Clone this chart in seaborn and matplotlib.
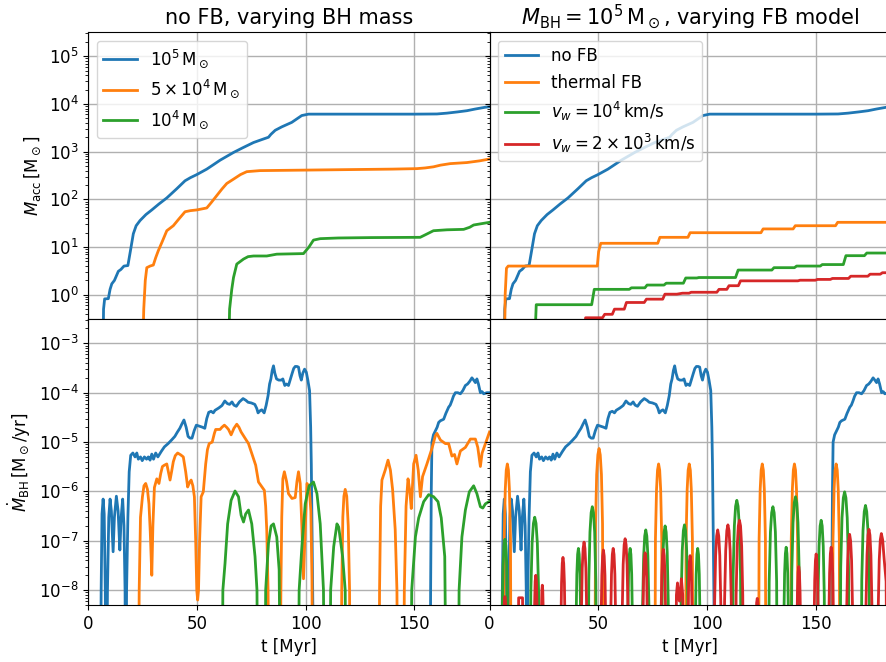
"""
Accretion history of the seed black hole runs.
Top row: accreted mass, bottom row: accretion rate.
Left: no feedback, three BH masses. Right: 1e5 Msun BH, four feedback models.
"""

import matplotlib
matplotlib.use("Agg")
import matplotlib.pyplot as plt
import seaborn as sns

# ─── Data (t [Myr], value) ───────────────────────────────────────────────────

# accreted mass [Msun], no FB
acc_1e5 = [(6.6, 0.01), (7.0, 0.5), (7.5, 0.82), (9.2, 0.83), (10.0, 1.3), (10.8, 1.7),
           (12.0, 2.0), (13.8, 3.1), (15.0, 3.4), (16.4, 4.0), (18.2, 4.1), (19.3, 8.0),
           (20.7, 19), (22.0, 28), (23.8, 36), (26.5, 48), (29.2, 60), (32.5, 80),
           (36.1, 107), (40.7, 167), (44.5, 245), (47.0, 285), (49.9, 330), (54.5, 430),
           (57.5, 530), (60.6, 660), (66.8, 960), (71.0, 1200), (76.0, 1550), (80.0, 1800),
           (82.9, 2000), (84.0, 2300), (86.0, 2800), (89.0, 3300), (93.6, 4100),
           (98.2, 5700), (101.3, 6100), (110.0, 6100), (130.0, 6100), (150.0, 6100),
           (160.4, 6150), (165.0, 6400), (170.0, 6800), (174.2, 7200), (178.0, 7800),
           (182.6, 8500), (184.6, 8700)]
acc_5e4 = [(24.6, 0.01), (25.5, 0.5), (26.2, 2.0), (26.9, 3.7), (28.4, 4.0), (29.9, 4.2),
           (31.0, 6.0), (32.2, 8.4), (34.0, 13), (36.1, 22), (39.1, 28), (41.5, 38),
           (44.5, 55), (47.0, 58), (49.9, 60), (54.5, 66), (56.5, 85), (59.1, 120),
           (61.5, 165), (63.7, 215), (66.8, 265), (70.0, 330), (72.9, 380), (79.0, 400),
           (100.0, 410), (120.0, 420), (140.0, 430), (151.2, 440), (155.0, 455),
           (158.8, 480), (162.0, 520), (166.5, 560), (174.2, 590), (180.0, 640),
           (184.6, 700)]
acc_1e4 = [(64.2, 0.01), (65.0, 0.5), (66.0, 1.3), (66.8, 2.3), (68.3, 4.4), (71.4, 5.6),
           (73.5, 6.3), (76.0, 6.5), (82.1, 6.5), (86.7, 7.1), (99.0, 7.3), (101.5, 10),
           (103.6, 14), (106.7, 15), (115.0, 15.5), (130.0, 15.8), (152.7, 16),
           (155.5, 18.5), (158.8, 22), (165.0, 23), (172.7, 23.5), (175.5, 26),
           (177.3, 29), (184.6, 33)]

# accreted mass [Msun], 1e5 Msun BH with feedback
acc_thermal = [(6.6, 0.01), (7.2, 1.0), (7.8, 3.6), (8.6, 4.0), (49.6, 4.0), (50.2, 8.0),
               (51.2, 12), (77.4, 12), (78.4, 16), (91.3, 16), (92.3, 20), (124.9, 20),
               (125.9, 24), (139.7, 24), (140.7, 28), (159.2, 28), (160.2, 33),
               (184.6, 33)]
acc_vw1e4 = [(20.0, 0.01), (21.5, 0.62), (47.0, 0.62), (48.2, 1.3), (64.3, 1.3),
             (65.3, 1.4), (71.5, 1.4), (72.5, 1.6), (80.3, 1.6), (81.3, 1.75),
             (89.2, 1.75), (90.3, 2.25), (95.4, 2.25), (96.3, 2.3), (113.2, 2.3),
             (114.4, 3.3), (129.9, 3.3), (130.9, 3.7), (140.3, 3.7), (141.3, 4.0),
             (152.2, 4.0), (153.1, 4.3), (162.8, 4.3), (164.0, 6.6), (172.5, 6.6),
             (173.6, 7.5), (184.6, 7.5)]
acc_vw2e3 = [(43.2, 0.01), (44.2, 0.33), (52.0, 0.33), (53.0, 0.39), (56.5, 0.39),
             (57.5, 0.5), (62.0, 0.5), (63.0, 0.69), (71.2, 0.69), (72.2, 0.81),
             (79.7, 0.81), (80.7, 1.03), (86.2, 1.03), (88.8, 1.08), (91.8, 1.08),
             (92.8, 1.13), (104.6, 1.13), (105.6, 1.3), (109.2, 1.3), (110.2, 1.55),
             (114.5, 1.55), (115.5, 1.96), (141.9, 1.96), (142.9, 2.02), (149.9, 2.02),
             (150.9, 2.1), (156.8, 2.1), (157.8, 2.2), (165.2, 2.2), (166.2, 2.45),
             (174.1, 2.45), (175.1, 2.7), (179.8, 2.7), (180.8, 2.9), (184.6, 2.9)]

# accretion rate [Msun/yr], no FB
rate_1e5 = [(5.5, 1e-11), (5.9, 1e-8), (6.3, 3.5e-7), (6.8, 7e-7), (7.3, 3.5e-7),
            (7.8, 1e-8), (8.3, 1e-11), (8.8, 1e-8), (9.4, 3e-7), (10.0, 7e-7),
            (10.6, 4e-7), (11.4, 6e-8), (12.0, 3e-7), (12.9, 8e-7), (13.7, 4e-7),
            (14.5, 6.5e-8), (15.1, 3e-7), (15.8, 7e-7), (16.4, 2e-7), (16.9, 1e-8),
            (17.2, 1e-11), (17.6, 1e-8), (18.2, 3e-7), (18.8, 2.5e-6), (19.5, 5.4e-6),
            (20.5, 6e-6), (21.5, 5e-6), (22.3, 6e-6), (23.0, 4.5e-6), (24.0, 5e-6),
            (24.8, 4.2e-6), (25.8, 5e-6), (26.8, 4.5e-6), (27.6, 5e-6), (28.4, 4.3e-6),
            (29.2, 5.7e-6), (30.0, 4.5e-6), (31.0, 6e-6), (32.0, 5e-6), (33.6, 6.5e-6),
            (35.0, 8e-6), (36.7, 9.3e-6), (38.3, 1.1e-5), (39.8, 1.3e-5), (41.0, 1.6e-5),
            (42.1, 1.9e-5), (43.0, 2.3e-5), (44.0, 2.8e-5), (45.0, 2e-5), (45.9, 1.3e-5),
            (46.8, 1.2e-5), (47.7, 1.2e-5), (48.7, 1.7e-5), (49.7, 2.2e-5), (51.0, 2.1e-5),
            (52.5, 2e-5), (53.6, 1.9e-5), (54.5, 3e-5), (55.4, 4e-5), (56.5, 4.2e-5),
            (57.5, 3.9e-5), (58.3, 4.4e-5), (60.0, 4.9e-5), (61.5, 5.5e-5), (62.8, 6.8e-5),
            (64.0, 6e-5), (65.0, 5.8e-5), (66.1, 6.5e-5), (67.0, 5.6e-5), (68.1, 5.3e-5),
            (69.5, 6.5e-5), (71.2, 7.6e-5), (72.5, 7e-5), (73.5, 6.4e-5), (75.0, 6.2e-5),
            (76.6, 5.8e-5), (77.5, 4.8e-5), (78.1, 3.9e-5), (79.0, 4.3e-5), (79.8, 4.5e-5),
            (80.9, 3.9e-5), (81.8, 5.5e-5), (82.7, 8.7e-5), (83.4, 1.5e-4), (84.0, 1.9e-4),
            (84.6, 2.8e-4), (85.2, 3.5e-4), (85.8, 2.5e-4), (86.6, 1.9e-4), (87.6, 1.8e-4),
            (88.8, 1.8e-4), (89.5, 1.9e-4), (90.4, 1.4e-4), (91.2, 1.5e-4), (92.1, 1.4e-4),
            (93.0, 1.9e-4), (93.7, 2.4e-4), (94.5, 3.1e-4), (95.2, 3.4e-4), (96.0, 3.4e-4),
            (96.7, 3.3e-4), (97.4, 2.2e-4), (98.0, 1.8e-4), (98.7, 2.5e-4), (99.5, 3.0e-4),
            (100.3, 2.6e-4), (101.0, 1.8e-4), (101.8, 1.1e-4), (102.3, 2e-5),
            (102.6, 3.5e-6), (103.0, 1e-7), (103.4, 2e-9), (103.6, 1e-11), (157.2, 1e-11),
            (157.5, 1e-8), (157.8, 1e-6), (158.1, 1e-5), (158.8, 1.4e-5), (159.7, 1.7e-5),
            (160.5, 2e-5), (161.2, 2.5e-5), (162.0, 2.7e-5), (163.5, 2.9e-5),
            (164.5, 3.8e-5), (165.8, 5.1e-5), (166.5, 5.6e-5), (167.3, 6.9e-5),
            (168.0, 8.5e-5), (168.9, 1.0e-4), (170.0, 1.0e-4), (171.2, 9.5e-5),
            (172.3, 1.1e-4), (173.5, 1.4e-4), (174.5, 1.5e-4), (175.5, 1.7e-4),
            (176.5, 2.0e-4), (177.3, 1.8e-4), (178.1, 1.6e-4), (178.8, 1.9e-4),
            (179.5, 1.5e-4), (180.4, 1.0e-4), (181.2, 1.05e-4), (181.9, 9.5e-5),
            (183.4, 1.0e-4), (184.6, 1.0e-4)]
rate_5e4 = [(23.0, 1e-11), (23.4, 1e-8), (24.0, 3e-7), (24.9, 7.8e-7), (25.6, 1.3e-6),
            (26.4, 1.45e-6), (27.2, 1.1e-6), (27.9, 5.6e-7), (28.5, 1.5e-7), (29.2, 2e-8),
            (29.7, 2e-7), (30.4, 1.2e-6), (31.5, 1.8e-6), (32.5, 1.45e-6), (33.3, 2.3e-6),
            (34.1, 3.2e-6), (35.0, 3.4e-6), (36.1, 3.6e-6), (37.0, 2.3e-6), (37.6, 1.7e-6),
            (38.3, 2.5e-6), (39.1, 4e-6), (40.0, 5.3e-6), (41.1, 6e-6), (42.5, 5.5e-6),
            (43.7, 5e-6), (44.8, 2.5e-6), (45.7, 1.23e-6), (46.5, 1.5e-6), (47.3, 1.7e-6),
            (48.1, 1.3e-6), (48.8, 7.8e-7), (49.4, 1e-7), (49.9, 1e-8), (50.3, 6.3e-9),
            (50.7, 1e-8), (51.2, 1e-7), (51.9, 7.8e-7), (52.9, 9.8e-7), (53.5, 2e-6),
            (54.0, 3.6e-6), (54.8, 7e-6), (55.6, 9.3e-6), (57.0, 1e-5), (58.0, 1.5e-5),
            (58.6, 1.8e-5), (60.6, 1.8e-5), (61.5, 2e-5), (62.6, 2.2e-5), (63.6, 2e-5),
            (64.5, 1.8e-5), (65.7, 1.4e-5), (67.0, 1.9e-5), (68.3, 2.3e-5), (69.3, 2e-5),
            (70.3, 1.6e-5), (71.8, 1.26e-5), (73.7, 9.3e-6), (75.5, 5.4e-6), (77.0, 3.4e-6),
            (78.3, 1.55e-6), (79.5, 1.3e-6), (81.0, 1.05e-6), (81.6, 5e-7), (82.1, 1.66e-7),
            (82.7, 1e-8), (83.2, 1e-11), (88.2, 1e-11), (88.6, 1e-8), (89.0, 3e-7),
            (89.5, 1.8e-6), (90.2, 2.5e-6), (91.2, 1.6e-6), (92.1, 9e-7), (93.7, 7.2e-7),
            (95.2, 7.5e-7), (96.0, 1.6e-6), (96.7, 2.5e-6), (97.5, 1.45e-6), (98.3, 1.7e-7),
            (99.0, 1.7e-8), (99.8, 1.7e-7), (100.6, 1.45e-6), (101.6, 1.2e-6),
            (102.4, 4e-7), (102.9, 1.7e-8), (103.3, 1e-11), (116.2, 1e-11), (116.6, 1e-8),
            (117.1, 3e-7), (117.6, 8e-7), (118.2, 1.1e-6), (118.9, 8e-7), (119.6, 2e-7),
            (120.2, 1e-8), (120.5, 1e-11), (133.7, 1e-11), (134.0, 1e-8), (134.5, 5e-7),
            (135.1, 1.7e-6), (136.6, 2.7e-6), (137.9, 4.3e-6), (139.0, 2.7e-6),
            (140.0, 1.1e-6), (141.2, 1.7e-7), (142.0, 1e-8), (142.4, 1e-11),
            (145.0, 1e-11), (145.4, 1e-8), (146.2, 5e-7), (147.1, 1.8e-6),
            (147.9, 1.05e-6), (148.6, 4.5e-7), (149.7, 3.6e-6), (150.8, 5.4e-6),
            (151.8, 2.7e-6), (152.8, 7.8e-7), (153.8, 2e-6), (155.8, 3.6e-6),
            (158.1, 7.4e-6), (159.7, 1.35e-5), (160.4, 1.5e-5), (162.0, 1.1e-5),
            (164.3, 9.3e-6), (165.8, 9.3e-6), (167.3, 5.2e-6), (168.5, 5.6e-6),
            (169.6, 3.6e-6), (171.2, 6.6e-6), (173.5, 7.8e-6), (175.8, 1.15e-5),
            (178.1, 1.15e-5), (179.2, 7.8e-6), (180.4, 3.2e-6), (181.2, 6e-6),
            (182.7, 9.3e-6), (184.6, 1.6e-5)]
rate_1e4 = [(61.5, 1e-11), (61.9, 1e-8), (62.9, 3.5e-8), (64.1, 2.2e-7), (65.7, 6.6e-7),
            (67.5, 1.02e-6), (69.1, 7.8e-7), (70.3, 3.3e-7), (71.4, 2.4e-7),
            (72.4, 3.5e-7), (73.7, 4.2e-7), (75.2, 2.2e-7), (76.7, 4.8e-8), (77.6, 1e-8),
            (78.0, 1e-11), (81.2, 1e-11), (81.6, 1e-8), (82.9, 9e-8), (84.1, 2e-7),
            (85.2, 2.2e-7), (86.7, 1.2e-7), (87.8, 2.6e-8), (88.5, 1e-11), (96.5, 1e-11),
            (97.0, 1e-8), (98.3, 8e-8), (99.8, 5.6e-7), (101.6, 1.3e-6), (103.6, 1.55e-6),
            (105.2, 9e-7), (106.7, 2.2e-7), (108.2, 1e-8), (108.7, 1e-11), (111.1, 1e-11),
            (111.5, 1e-8), (112.9, 7.6e-8), (114.4, 2.2e-7), (115.2, 1.9e-7),
            (117.0, 4.8e-8), (118.2, 1e-8), (118.6, 1e-11), (148.4, 1e-11), (148.8, 1e-8),
            (150.5, 1.2e-7), (152.0, 2.9e-7), (154.3, 6.2e-7), (156.6, 8.6e-7),
            (158.9, 7.8e-7), (160.9, 6.2e-7), (162.4, 2.9e-7), (164.0, 4.8e-8),
            (164.8, 1e-11), (170.2, 1e-11), (170.6, 1e-8), (171.9, 1.2e-7),
            (173.5, 4.2e-7), (175.3, 9.8e-7), (177.3, 1.3e-6), (178.8, 9e-7),
            (180.4, 4.9e-7), (181.5, 4.6e-7), (182.7, 5.6e-7), (184.6, 6.3e-7)]

# accretion rate [Msun/yr], 1e5 Msun BH with feedback (bursts)
rate_thermal = [
    (6.45, 1e-11), (6.75, 1.1e-7), (7.25, 1.1e-6), (7.7, 2.7e-6), (8.2, 3.6e-6),
    (8.7, 2.7e-6), (9.15, 1.1e-6), (9.65, 1.1e-7), (9.95, 1e-11),
    (48.4, 1e-11), (48.8, 2.2e-7), (49.3, 2.2e-6), (49.85, 5.5e-6), (50.4, 7.4e-6),
    (50.95, 5.5e-6), (51.5, 2.2e-6), (52.0, 2.2e-7), (52.4, 1e-11),
    (76.05, 1e-11), (76.35, 1.1e-7), (76.85, 1.1e-6), (77.3, 2.7e-6), (77.8, 3.6e-6),
    (78.3, 2.7e-6), (78.75, 1.1e-6), (79.25, 1.1e-7), (79.55, 1e-11),
    (90.15, 1e-11), (90.45, 1.1e-7), (90.95, 1.1e-6), (91.4, 2.7e-6), (91.9, 3.6e-6),
    (92.4, 2.7e-6), (92.85, 1.1e-6), (93.35, 1.1e-7), (93.65, 1e-11),
    (123.75, 1e-11), (124.05, 1.1e-7), (124.55, 1.1e-6), (125.0, 2.7e-6),
    (125.5, 3.6e-6), (126.0, 2.7e-6), (126.45, 1.1e-6), (126.95, 1.1e-7),
    (127.25, 1e-11),
    (138.55, 1e-11), (138.85, 1.1e-7), (139.35, 1.1e-6), (139.8, 2.7e-6),
    (140.3, 3.6e-6), (140.8, 2.7e-6), (141.25, 1.1e-6), (141.75, 1.1e-7),
    (142.05, 1e-11),
    (157.75, 1e-11), (158.05, 1.1e-7), (158.55, 1.1e-6), (159.0, 2.7e-6),
    (159.5, 3.6e-6), (160.0, 2.7e-6), (160.45, 1.1e-6), (160.95, 1.1e-7),
    (161.25, 1e-11)]
rate_vw1e4 = [
    (5.56, 1e-11), (5.84, 3.2e-9), (6.26, 3.2e-8), (6.68, 8e-8), (7.1, 1.07e-7),
    (7.52, 8e-8), (7.94, 3.2e-8), (8.36, 3.2e-9), (8.64, 1e-11),
    (18.6, 1e-11), (19.0, 9e-9), (19.6, 9e-8), (20.2, 2.25e-7), (20.8, 3e-7),
    (21.4, 2.25e-7), (22.0, 9e-8), (22.6, 9e-9), (23.0, 1e-11),
    (39.58, 1e-11), (39.82, 2.1e-9), (40.18, 2.1e-8), (40.54, 5.3e-8), (40.9, 7e-8),
    (41.26, 5.3e-8), (41.62, 2.1e-8), (41.98, 2.1e-9), (42.22, 1e-11),
    (45.32, 1e-11), (45.68, 1.5e-8), (46.22, 1.5e-7), (46.76, 3.7e-7), (47.3, 4.9e-7),
    (47.84, 3.7e-7), (48.38, 1.5e-7), (48.92, 1.5e-8), (49.28, 1e-11),
    (63.38, 1e-11), (63.62, 2.1e-9), (63.98, 2.1e-8), (64.34, 5.3e-8), (64.7, 7e-8),
    (65.06, 5.3e-8), (65.42, 2.1e-8), (65.78, 2.1e-9), (66.02, 1e-11),
    (70.14, 1e-11), (70.46, 5e-9), (70.94, 5e-8), (71.42, 1.25e-7), (71.9, 1.66e-7),
    (72.38, 1.25e-7), (72.86, 5e-8), (73.34, 5e-9), (73.66, 1e-11),
    (79.04, 1e-11), (79.36, 6e-9), (79.84, 6e-8), (80.32, 1.5e-7), (80.8, 2e-7),
    (81.28, 1.5e-7), (81.76, 6e-8), (82.24, 6e-9), (82.56, 1e-11),
    (87.83, 1e-11), (88.17, 6.3e-9), (88.68, 6.3e-8), (89.19, 1.6e-7), (89.7, 2.1e-7),
    (90.21, 1.6e-7), (90.72, 6.3e-8), (91.23, 6.3e-9), (91.57, 1e-11),
    (94.48, 1e-11), (94.72, 2.1e-9), (95.08, 2.1e-8), (95.44, 5.3e-8), (95.8, 7e-8),
    (96.16, 5.3e-8), (96.52, 2.1e-8), (96.88, 2.1e-9), (97.12, 1e-11),
    (111.71, 1e-11), (112.09, 2e-8), (112.66, 2e-7), (113.23, 5e-7), (113.8, 6.6e-7),
    (114.37, 5e-7), (114.94, 2e-7), (115.51, 2e-8), (115.89, 1e-11),
    (128.31, 1e-11), (128.69, 1.5e-8), (129.26, 1.5e-7), (129.83, 3.7e-7),
    (130.4, 4.9e-7), (130.97, 3.7e-7), (131.54, 1.5e-7), (132.11, 1.5e-8),
    (132.49, 1e-11),
    (135.18, 1e-11), (135.42, 2.2e-9), (135.78, 2.2e-8), (136.14, 5.5e-8),
    (136.5, 7.4e-8), (136.86, 5.5e-8), (137.22, 2.2e-8), (137.58, 2.2e-9),
    (137.82, 1e-11),
    (138.71, 1e-11), (139.09, 2.3e-8), (139.66, 2.3e-7), (140.23, 5.9e-7),
    (140.8, 7.8e-7), (141.37, 5.9e-7), (141.94, 2.3e-7), (142.51, 2.3e-8),
    (142.89, 1e-11),
    (150.84, 1e-11), (151.16, 7.8e-9), (151.64, 7.8e-8), (152.12, 2e-7),
    (152.6, 2.6e-7), (153.08, 2e-7), (153.56, 7.8e-8), (154.04, 7.8e-9),
    (154.36, 1e-11),
    (161.2, 1e-11), (161.6, 2.9e-8), (162.2, 2.9e-7), (162.8, 7.4e-7), (163.4, 9.8e-7),
    (164.0, 7.4e-7), (164.6, 2.9e-7), (165.2, 2.9e-8), (165.6, 1e-11),
    (170.91, 1e-11), (171.29, 1.6e-8), (171.86, 1.6e-7), (172.43, 3.9e-7),
    (173.0, 5.2e-7), (173.57, 3.9e-7), (174.14, 1.6e-7), (174.71, 1.6e-8),
    (175.09, 1e-11)]
rate_vw2e3 = [
    (6.5, 1e-11), (6.8, 5.5e-9), (7.1, 7.4e-9), (7.4, 5.5e-9), (7.7, 1e-11),
    (13.0, 1e-11), (13.4, 7e-9), (15.2, 7e-9), (15.6, 1e-11),
    (20.4, 1e-11), (20.7, 4e-9), (21.0, 1.5e-8), (21.3, 2e-8), (21.6, 1.5e-8),
    (21.9, 4e-9), (22.2, 1e-11),
    (23.6, 1e-11), (23.9, 4e-9), (24.1, 1e-8), (24.3, 1.26e-8), (24.5, 1e-8),
    (24.7, 4e-9), (25.0, 1e-11),
    (32.59, 1e-11), (32.81, 1.4e-9), (33.14, 1.4e-8), (33.47, 3.5e-8), (33.8, 4.6e-8),
    (34.13, 3.5e-8), (34.46, 1.4e-8), (34.79, 1.4e-9), (35.01, 1e-11),
    (41.96, 1e-11), (42.24, 2.8e-9), (42.66, 2.8e-8), (43.08, 7e-8), (43.5, 9.4e-8),
    (43.92, 7e-8), (44.34, 2.8e-8), (44.76, 2.8e-9), (45.04, 1e-11),
    (51.08, 1e-11), (51.32, 2e-9), (51.68, 2e-8), (52.04, 4.9e-8), (52.4, 6.5e-8),
    (52.76, 4.9e-8), (53.12, 2e-8), (53.48, 2e-9), (53.72, 1e-11),
    (55.47, 1e-11), (55.73, 2.1e-9), (56.12, 2.1e-8), (56.51, 5.3e-8), (56.9, 7e-8),
    (57.29, 5.3e-8), (57.68, 2.1e-8), (58.07, 2.1e-9), (58.33, 1e-11),
    (60.75, 1e-11), (61.05, 3.3e-9), (61.5, 3.3e-8), (61.95, 8.3e-8), (62.4, 1.1e-7),
    (62.85, 8.3e-8), (63.3, 3.3e-8), (63.75, 3.3e-9), (64.05, 1e-11),
    (70.28, 1e-11), (70.52, 1.7e-9), (70.88, 1.7e-8), (71.24, 4.3e-8), (71.6, 5.7e-8),
    (71.96, 4.3e-8), (72.32, 1.7e-8), (72.68, 1.7e-9), (72.92, 1e-11),
    (78.62, 1e-11), (78.88, 2e-9), (79.25, 2e-8), (79.62, 5e-8), (80.0, 6.7e-8),
    (80.38, 5e-8), (80.75, 2e-8), (81.12, 2e-9), (81.38, 1e-11),
    (85.6, 1e-11), (86.0, 8e-9), (86.5, 1.4e-8), (87.0, 7e-9), (87.4, 6e-9),
    (88.3, 1.7e-8), (88.9, 8e-9), (89.2, 1e-11),
    (91.09, 1e-11), (91.31, 1.5e-9), (91.64, 1.5e-8), (91.97, 3.8e-8), (92.3, 5e-8),
    (92.63, 3.8e-8), (92.96, 1.5e-8), (93.29, 1.5e-9), (93.51, 1e-11),
    (103.24, 1e-11), (103.56, 5e-9), (104.04, 5e-8), (104.52, 1.25e-7),
    (105.0, 1.66e-7), (105.48, 1.25e-7), (105.96, 5e-8), (106.44, 5e-9),
    (106.76, 1e-11),
    (107.83, 1e-11), (108.17, 6.3e-9), (108.68, 6.3e-8), (109.19, 1.6e-7),
    (109.7, 2.1e-7), (110.21, 1.6e-7), (110.72, 6.3e-8), (111.23, 6.3e-9),
    (111.57, 1e-11),
    (113.13, 1e-11), (113.47, 7.8e-9), (113.98, 7.8e-8), (114.49, 2e-7),
    (115.0, 2.6e-7), (115.51, 2e-7), (116.02, 7.8e-8), (116.53, 7.8e-9),
    (116.87, 1e-11),
    (122.6, 1e-11), (122.9, 5.5e-9), (123.2, 6.8e-9), (123.5, 5.5e-9), (123.8, 1e-11),
    (141.2, 1e-11), (141.4, 1e-9), (141.7, 9e-9), (142.0, 2.3e-8), (142.3, 3e-8),
    (142.6, 2.3e-8), (142.9, 9e-9), (143.2, 1e-9), (143.4, 1e-11),
    (149.09, 1e-11), (149.31, 1.6e-9), (149.64, 1.6e-8), (149.97, 4e-8),
    (150.3, 5.4e-8), (150.63, 4e-8), (150.96, 1.6e-8), (151.29, 1.6e-9),
    (151.51, 1e-11),
    (155.88, 1e-11), (156.12, 2.2e-9), (156.48, 2.2e-8), (156.84, 5.5e-8),
    (157.2, 7.4e-8), (157.56, 5.5e-8), (157.92, 2.2e-8), (158.28, 2.2e-9),
    (158.52, 1e-11),
    (164.05, 1e-11), (164.35, 4e-9), (164.8, 4e-8), (165.25, 1e-7), (165.7, 1.35e-7),
    (166.15, 1e-7), (166.6, 4e-8), (167.05, 4e-9), (167.35, 1e-11),
    (172.95, 1e-11), (173.25, 5.1e-9), (173.7, 5.1e-8), (174.15, 1.3e-7),
    (174.6, 1.7e-7), (175.05, 1.3e-7), (175.5, 5.1e-8), (175.95, 5.1e-9),
    (176.25, 1e-11),
    (178.54, 1e-11), (178.86, 4.2e-9), (179.34, 4.2e-8), (179.82, 1.05e-7),
    (180.3, 1.4e-7), (180.9, 1.05e-7), (181.6, 4.2e-8), (182.5, 1.5e-8),
    (183.0, 1e-11)]

labels_mass = [r"$10^5\,\rm M_\odot$", r"$5\times10^4\,\rm M_\odot$", r"$10^4\,\rm M_\odot$"]
labels_fb = ["no FB", "thermal FB", r"$v_w = 10^4\,\rm km/s$",
             r"$v_w = 2\times10^3\,\rm km/s$"]
colors = ["#1f77b4", "#ff7f0e", "#2ca02c", "#d62728"]


# ─── Helpers ─────────────────────────────────────────────────────────────────

def draw(ax, pairs, color, label=None):
    t = [p[0] for p in pairs]
    v = [p[1] for p in pairs]
    sns.lineplot(x=t, y=v, ax=ax, color=color, lw=2, label=label,
                 estimator=None, sort=False, errorbar=None)


# ─── Figure ──────────────────────────────────────────────────────────────────

plt.rcParams.update({
    "font.size": 12,
    "xtick.labelsize": 12,
    "ytick.labelsize": 12,
    "axes.labelsize": 12,
    "legend.fontsize": 12,
})

fig, axes = plt.subplots(2, 2, figsize=(8.86, 6.62), dpi=100,
                         sharex=True, sharey="row")
fig.subplots_adjust(left=0.0997, right=1.0053, bottom=0.0861, top=0.9512,
                    wspace=0, hspace=0)

for ax in axes.flat:
    ax.set_yscale("log")

# top left: accreted mass, no FB
for pairs, col, lbl in zip([acc_1e5, acc_5e4, acc_1e4], colors, labels_mass):
    draw(axes[0, 0], pairs, col, lbl)

# top right: accreted mass, FB models
for pairs, col, lbl in zip([acc_1e5, acc_thermal, acc_vw1e4, acc_vw2e3], colors, labels_fb):
    draw(axes[0, 1], pairs, col, lbl)

# bottom left: accretion rate, no FB
for pairs, col in zip([rate_1e5, rate_5e4, rate_1e4], colors):
    draw(axes[1, 0], pairs, col)

# bottom right: accretion rate, FB models
for pairs, col in zip([rate_1e5, rate_thermal, rate_vw1e4, rate_vw2e3], colors):
    draw(axes[1, 1], pairs, col)

axes[0, 0].set_ylim(10 ** -0.5, 10 ** 5.5)
axes[1, 0].set_ylim(5e-9, 10 ** -2.5)

for ax in axes.flat:
    ax.set_xlim(0, 184.6)
    ax.set_xticks([0, 50, 100, 150])
    ax.grid(True, color="#b0b0b0", lw=1.0)
    ax.set_xlabel("")
    ax.set_ylabel("")

for ax in axes[1]:
    ax.set_xlabel("t [Myr]")

axes[0, 0].set_ylabel(r"$M_{\rm acc}\,[\rm M_\odot]$")
axes[1, 0].set_ylabel(r"$\dot M_{\rm BH}\,[\rm M_\odot/yr]$")

axes[0, 0].set_title("no FB, varying BH mass", fontsize=15)
axes[0, 1].set_title(r"$M_{\rm BH} = 10^5\,\rm M_\odot$, varying FB model", fontsize=15)

axes[0, 0].legend(loc="upper left")
axes[0, 1].legend(loc="upper left")

fig.savefig("out.png", dpi=100)
plt.close(fig)
